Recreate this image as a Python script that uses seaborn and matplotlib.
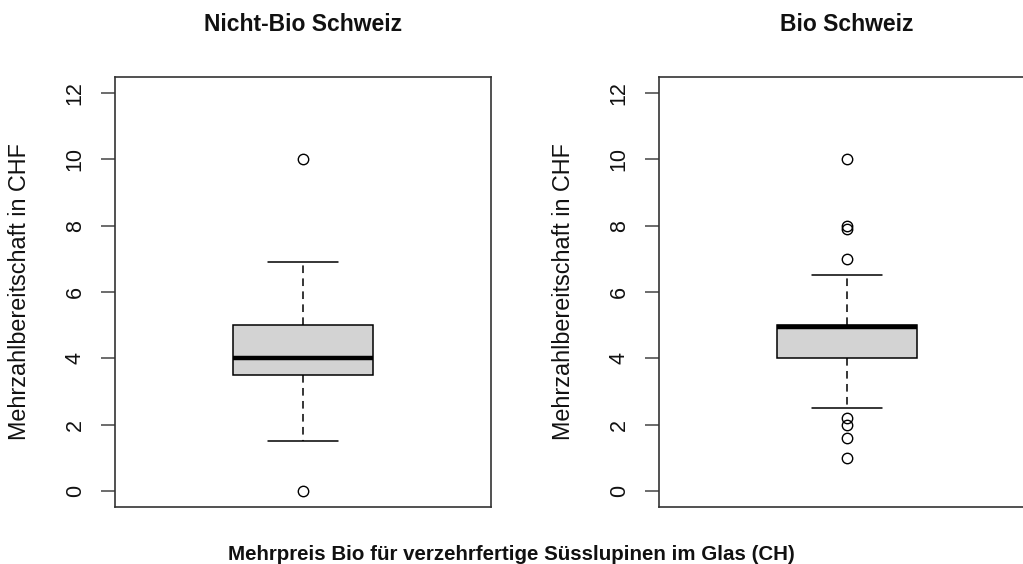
import matplotlib
matplotlib.use("Agg")
import matplotlib.pyplot as plt
import seaborn as sns
import pandas as pd

# Mehrzahlbereitschaft (CHF) je Befragtengruppe
panel_titles = ["Nicht-Bio Schweiz", "Bio Schweiz"]
nicht_bio = [0, 1.5, 3.5, 3.5, 4, 5, 5, 6.9, 10]
bio = [1.0, 1.6, 2.0, 2.2, 2.5, 3.5, 4.0, 4.0, 4.5, 4.5, 4.8, 4.9, 4.95,
       5, 5, 5, 5, 5, 5, 5.5, 6.5, 7.0, 7.9, 8.0, 10]
y_ticks = [0, 2, 4, 6, 8, 10, 12]
y_label = "Mehrzahlbereitschaft in CHF"
x_title = "Mehrpreis Bio für verzehrfertige Süsslupinen im Glas (CH)"

sns.set_theme(style="white")
plt.rcParams["font.family"] = ["Liberation Sans", "DejaVu Sans"]

W, H = 1023, 564
fig = plt.figure(figsize=(W / 100, H / 100), dpi=100)

left_px = [115, 659]
ax_w, ax_top, ax_bot = 376, 77, 507

for i, (title, values) in enumerate(zip(panel_titles, [nicht_bio, bio])):
    ax = fig.add_axes([left_px[i] / W, 1 - ax_bot / H, ax_w / W, (ax_bot - ax_top) / H])
    df = pd.DataFrame({"wert": values})
    sns.boxplot(
        data=df, y="wert", ax=ax, width=0.4, color="#D3D3D3", saturation=1,
        linecolor="black", linewidth=1.1, whis=1.5,
        whiskerprops=dict(linestyle=(0, (5, 3.5)), color="black", linewidth=1.1),
        capprops=dict(color="black", linewidth=1.1),
        medianprops=dict(color="black", linewidth=3.2),
        flierprops=dict(marker="o", markerfacecolor="none", markeredgecolor="black",
                        markeredgewidth=1.0, markersize=7.5),
    )
    ax.set_xlim(-0.54, 0.54)
    ax.set_ylim(-0.48, 12.48)
    ax.set_xticks([])
    ax.set_yticks(y_ticks)
    ax.set_yticklabels([str(t) for t in y_ticks], rotation=90, va="center",
                       fontsize=15.5, color="#111111")
    ax.tick_params(axis="y", which="major", left=True, length=10, width=1.1,
                   color="#444444", pad=11, direction="out")
    ax.set_xlabel("")
    ax.set_ylabel("")
    for sp in ax.spines.values():
        sp.set_visible(True)
        sp.set_color("#333333")
        sp.set_linewidth(1.2)
    ax.text(-95 / ax_w, 0.5, y_label, rotation=90, ha="center", va="center",
            fontsize=16.8, color="#111111", transform=ax.transAxes)
    fig.text((left_px[i] + ax_w / 2) / W, 1 - 31 / H, title, ha="center",
             va="baseline", fontsize=16.5, fontweight="bold", color="#111111")

fig.text(511 / W, 1 - 560 / H, x_title, ha="center", va="baseline",
         fontsize=14.8, fontweight="bold", color="#111111")

fig.savefig("out.png", dpi=100, facecolor="white")
